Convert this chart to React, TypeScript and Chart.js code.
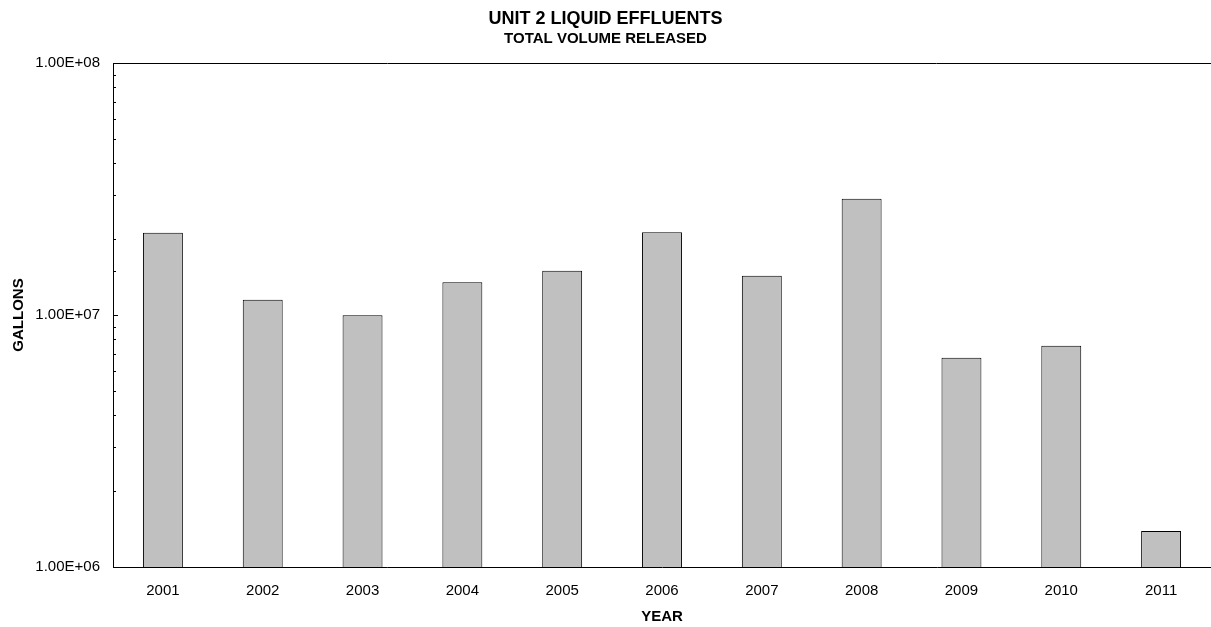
import React, { useEffect, useRef } from 'react';
import { Chart, registerables } from 'chart.js';

Chart.register(...registerables);

const YEARS: string[] = ['2001', '2002', '2003', '2004', '2005', '2006', '2007', '2008', '2009', '2010', '2011'];
const GALLONS: number[] = [2.12e7, 1.15e7, 9.97e6, 1.35e7, 1.5e7, 2.13e7, 1.43e7, 2.89e7, 6.77e6, 7.55e6, 1.39e6];
const Y_MIN = 1e6;
const Y_MAX = 1e8;
const TITLE = 'UNIT 2 LIQUID EFFLUENTS';
const SUBTITLE = 'TOTAL VOLUME RELEASED';
const X_TITLE = 'YEAR';
const Y_TITLE = 'GALLONS';

const FONT = '"Liberation Sans", Arial, sans-serif';
const W = 1211;
const H = 627;

function isMajor(v: number): boolean {
  const l = Math.log10(v);
  return Math.abs(l - Math.round(l)) < 1e-9;
}

function sci(v: number): string {
  const e = Math.round(Math.log10(v));
  const m = v / Math.pow(10, e);
  const es = (e < 0 ? '-' : '+') + String(Math.abs(e)).padStart(2, '0');
  return m.toFixed(2) + 'E' + es;
}

const framePlugin = {
  id: 'frame',
  afterDraw(chart: any) {
    const { ctx, chartArea } = chart;
    const y = chart.scales.y;
    ctx.save();
    ctx.strokeStyle = '#000';
    ctx.lineWidth = 1;
    // top frame line
    const ty = Math.round(chartArea.top) + 0.5;
    ctx.beginPath();
    ctx.moveTo(chartArea.left, ty);
    ctx.lineTo(chartArea.right, ty);
    ctx.stroke();
    // inward ticks on the y axis
    const x0 = Math.round(chartArea.left);
    y.ticks.forEach((t: any) => {
      const py = Math.round(y.getPixelForValue(t.value)) + 0.5;
      const len = isMajor(t.value) ? 5 : 3;
      ctx.beginPath();
      ctx.moveTo(x0, py);
      ctx.lineTo(x0 + len, py);
      ctx.stroke();
    });
    ctx.restore();
  },
};

export default function App() {
  const ref = useRef<HTMLCanvasElement | null>(null);

  useEffect(() => {
    if (!ref.current) return;
    const chart = new Chart(ref.current, {
      type: 'bar',
      data: {
        labels: YEARS,
        datasets: [
          {
            data: GALLONS,
            backgroundColor: '#C0C0C0',
            borderColor: '#000000',
            borderWidth: 1,
            barPercentage: 0.4,
            categoryPercentage: 1,
          },
        ],
      },
      options: {
        animation: false,
        responsive: false,
        devicePixelRatio: 1,
        color: '#000',
        font: { family: FONT },
        layout: { padding: { top: 0, left: 0, right: 0, bottom: 0 } },
        plugins: {
          legend: { display: false },
          tooltip: { enabled: false },
          title: {
            display: true,
            text: TITLE,
            color: '#000',
            font: { family: FONT, size: 18, weight: 'bold' },
            padding: { top: 8, bottom: 0 },
          },
          subtitle: {
            display: true,
            text: SUBTITLE,
            color: '#000',
            font: { family: FONT, size: 15, weight: 'bold' },
            padding: { top: 0, bottom: 15.4 },
          },
        },
        scales: {
          x: {
            grid: { display: false, drawTicks: false },
            border: { display: true, color: '#000', width: 1 },
            ticks: {
              color: '#000',
              font: { family: FONT, size: 15 },
              padding: 15,
              autoSkip: false,
              maxRotation: 0,
            },
            title: {
              display: true,
              text: X_TITLE,
              color: '#000',
              font: { family: FONT, size: 15, weight: 'bold' },
              padding: { top: 0, bottom: 1 },
            },
            afterFit: (s: any) => {
              s.height = 60;
            },
          },
          y: {
            type: 'logarithmic',
            min: Y_MIN,
            max: Y_MAX,
            grid: { display: false, drawTicks: false },
            border: { display: true, color: '#000', width: 1 },
            ticks: {
              color: '#000',
              font: { family: FONT, size: 15 },
              padding: 13,
              autoSkip: false,
              callback: (v: any) => (isMajor(Number(v)) ? sci(Number(v)) : ''),
            },
            title: {
              display: true,
              text: Y_TITLE,
              color: '#000',
              font: { family: FONT, size: 15, weight: 'bold' },
              padding: { top: 10, bottom: 0 },
            },
            afterFit: (s: any) => {
              s.width = 113;
            },
          },
        },
      } as any,
      plugins: [framePlugin],
    });
    return () => chart.destroy();
  }, []);

  return (
    <div style={{ position: 'absolute', left: 0, top: 0, width: W, height: H, background: '#fff' }}>
      <canvas ref={ref} width={W} height={H} style={{ display: 'block' }} />
    </div>
  );
}
